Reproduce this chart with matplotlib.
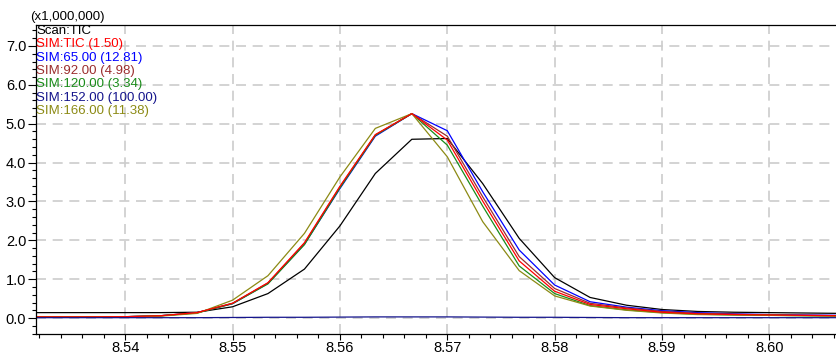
import matplotlib.pyplot as plt
from matplotlib.ticker import MultipleLocator

# retention time (min) and intensities (x1,000,000)
rt = [8.5300, 8.5333, 8.5367, 8.5400, 8.5433, 8.5467, 8.5500, 8.5533,
      8.5567, 8.5600, 8.5633, 8.5667, 8.5700, 8.5733, 8.5767, 8.5800,
      8.5833, 8.5867, 8.5900, 8.5933, 8.5967, 8.6000, 8.6033, 8.6067]

scan_tic = [0.14, 0.14, 0.14, 0.14, 0.14, 0.15, 0.29, 0.63, 1.26, 2.37, 3.72, 4.60,
            4.62, 3.46, 2.05, 1.04, 0.53, 0.33, 0.22, 0.17, 0.15, 0.14, 0.13, 0.12]
sim_tic = [0.03, 0.03, 0.03, 0.035, 0.06, 0.14, 0.38, 0.91, 1.94, 3.39, 4.72, 5.26,
           4.58, 3.01, 1.47, 0.69, 0.35, 0.24, 0.15, 0.11, 0.09, 0.08, 0.07, 0.06]
sim_65 = [0.03, 0.03, 0.03, 0.035, 0.06, 0.14, 0.37, 0.89, 1.90, 3.33, 4.68, 5.26,
          4.82, 3.25, 1.75, 0.85, 0.42, 0.28, 0.19, 0.14, 0.11, 0.09, 0.08, 0.07]
sim_92 = [0.03, 0.03, 0.03, 0.035, 0.06, 0.14, 0.38, 0.90, 1.92, 3.37, 4.71, 5.26,
          4.68, 3.12, 1.58, 0.76, 0.38, 0.26, 0.17, 0.12, 0.10, 0.08, 0.07, 0.06]
sim_120 = [0.03, 0.03, 0.03, 0.035, 0.06, 0.13, 0.37, 0.88, 1.89, 3.35, 4.70, 5.26,
           4.45, 2.88, 1.34, 0.63, 0.32, 0.21, 0.14, 0.10, 0.08, 0.07, 0.06, 0.05]
sim_152 = [0.01, 0.01, 0.01, 0.01, 0.01, 0.01, 0.015, 0.02, 0.02, 0.025, 0.03, 0.03,
           0.03, 0.025, 0.02, 0.02, 0.015, 0.01, 0.01, 0.01, 0.01, 0.01, 0.01, 0.01]
sim_166 = [0.03, 0.03, 0.03, 0.035, 0.05, 0.12, 0.46, 1.09, 2.18, 3.63, 4.88, 5.26,
           4.15, 2.48, 1.22, 0.57, 0.31, 0.20, 0.13, 0.09, 0.08, 0.07, 0.06, 0.05]

labels = ["Scan:TIC", "SIM:TIC (1.50)", "SIM:65.00 (12.81)", "SIM:92.00 (4.98)",
          "SIM:120.00 (3.34)", "SIM:152.00 (100.00)", "SIM:166.00 (11.38)"]
colors = ["#000000", "#ff0000", "#0000ff", "#9b2d2d", "#1a8c1a", "#14148c", "#8c8a14"]

plt.rcParams['font.family'] = ['Liberation Sans', 'DejaVu Sans']

fig = plt.figure(figsize=(8.36, 3.56), dpi=100)
ax = fig.add_axes([36/836, 22/356, 800/836, 309/356])

series = [scan_tic, sim_tic, sim_65, sim_92, sim_120, sim_152, sim_166]
# draw order so red ends up on top like the original
order = [0, 2, 3, 4, 6, 1, 5]
for i in order:
    ax.plot(rt, series[i], color=colors[i], lw=0.9)

ax.set_xlim(8.5317, 8.6062)
ax.set_ylim(-0.41, 7.54)

ax.xaxis.set_major_locator(MultipleLocator(0.01))
ax.xaxis.set_minor_locator(MultipleLocator(0.002))
ax.yaxis.set_major_locator(MultipleLocator(1.0))
ax.yaxis.set_minor_locator(MultipleLocator(0.2))
ax.xaxis.set_major_formatter(plt.FormatStrFormatter('%.2f'))
ax.yaxis.set_major_formatter(plt.FormatStrFormatter('%.1f'))

ax.tick_params(axis='both', which='major', labelsize=10.5, direction='out')
ax.tick_params(axis='x', which='major', length=4.5, width=0.8, pad=0.5)
ax.tick_params(axis='x', which='minor', length=3, width=0.8)
ax.tick_params(axis='y', which='major', length=6, width=0.8, pad=1)
ax.tick_params(axis='y', which='minor', length=3, width=0.8)

ax.grid(True, which='major', color='#cccccc', linestyle=(0, (6, 4)), lw=1.2)
ax.set_axisbelow(True)

ax.spines['right'].set_visible(False)
for s in ['left', 'bottom', 'top']:
    ax.spines[s].set_linewidth(0.9)

fig.text(30/836, 1 - 17/356, "(x1,000,000)", fontsize=9.5, va='center', ha='left')

for k, (lab, col) in enumerate(zip(labels, colors)):
    ax.text(0.0, 1 - (6 + 13.3 * k) / 309, lab, transform=ax.transAxes,
            color=col, fontsize=9.5, va='center', ha='left')

plt.savefig("out.png", dpi=100)
